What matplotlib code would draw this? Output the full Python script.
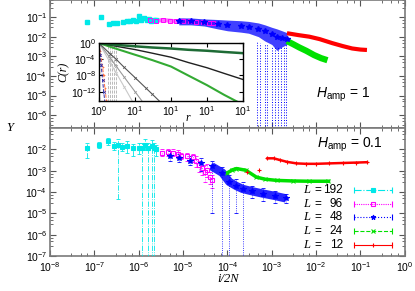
#!/usr/bin/env python3

import numpy as np
import matplotlib
matplotlib.use('Agg')
import matplotlib.pyplot as plt
from matplotlib.ticker import FixedLocator, LogLocator, NullFormatter

plt.rcParams['font.family'] = 'Liberation Sans'
plt.rcParams['mathtext.fontset'] = 'custom'
plt.rcParams['mathtext.rm'] = 'Liberation Sans'
plt.rcParams['mathtext.it'] = 'Liberation Sans:italic'

#------------------------------------------------------------------------------
# Data
#------------------------------------------------------------------------------

sizes = [192, 96, 48, 24, 12]
colors = ['#00e8e8', '#ff00ff', '#0000ff', '#00e000', '#ff0000']
markers = ['s', 's', '*', 'x', '+']
styles = ['-.', (0, (1, 1)), ':', '--', '-']

# H_amp = 1 (top panel)
t192_x = [7e-8, 1.4e-7, 2.1e-7, 2.7e-7, 3.2e-7, 4.5e-7, 5.5e-7, 6.5e-7, 7.5e-7, 8.5e-7,
          1.0e-6, 1.15e-6, 1.3e-6, 1.5e-6, 1.7e-6, 1.9e-6, 2.2e-6, 2.5e-6]
t192_y = [0.055, 0.1, 0.045, 0.05, 0.05, 0.055, 0.06, 0.065, 0.07, 0.06,
          0.11, 0.075, 0.085, 0.07, 0.08, 0.065, 0.075, 0.07]

t96_x = [1.8e-6, 2.5e-6, 3.5e-6, 5e-6, 7e-6, 1e-5, 1.4e-5, 2e-5, 2.8e-5, 3.8e-5, 4.7e-5]
t96_y = [0.07, 0.065, 0.07, 0.065, 0.06, 0.065, 0.06, 0.055, 0.055, 0.05, 0.05]

t48_x = [8e-6, 1.5e-5, 3e-5, 6e-5, 1e-4, 2e-4, 3e-4, 5e-4, 7e-4, 1e-3, 1.3e-3, 1.7e-3, 2.2e-3]
t48_y = [0.06, 0.06, 0.055, 0.045, 0.04, 0.035, 0.03, 0.024, 0.02, 0.014, 0.01, 0.009, 0.008]
t48_lo = [0.04, 0.04, 0.035, 0.025, 0.02, 0.017, 0.015, 0.01, 0.006, 0.004, 0.002, 0.003, 0.004]
t48_hi = [0.09, 0.09, 0.08, 0.075, 0.07, 0.065, 0.06, 0.05, 0.04, 0.03, 0.025, 0.02, 0.016]
t48_err_x = [4.7e-4, 5.3e-4, 7e-4, 8e-4, 1.0e-3, 1.2e-3, 1.4e-3, 1.6e-3, 1.9e-3, 2.1e-3]
t48_err_top = [0.006, 0.005, 0.004, 0.004, 0.003, 0.003, 0.003, 0.003, 0.003, 0.004]

t24_x = [2.2e-3, 3e-3, 4.2e-3, 6e-3, 9e-3, 1.3e-2, 1.8e-2]
t24_y = [6e-3, 4.2e-3, 2.8e-3, 1.9e-3, 1.15e-3, 8e-4, 6.3e-4]

t12_x = [2.2e-3, 4e-3, 7e-3, 1.2e-2, 2.3e-2, 4e-2, 6.5e-2, 1e-1, 1.4e-1]
t12_y = [1.5e-2, 1.2e-2, 1e-2, 7.5e-3, 4.7e-3, 3.3e-3, 2.5e-3, 2.2e-3, 2.1e-3]

# H_amp = 0.1 (bottom panel)
b192_x = [7e-8, 1.3e-7, 2e-7, 2.8e-7, 3.4e-7, 4.3e-7, 5.4e-7, 7.4e-7, 1.0e-6, 1.17e-6,
          1.4e-6, 1.6e-6, 1.95e-6, 2.2e-6, 2.5e-6]
b192_y = [0.011, 0.016, 0.024, 0.015, 0.016, 0.013, 0.014, 0.011, 0.012, 0.011,
          0.016, 0.012, 0.015, 0.011, 0.01]
b192_lo = [0.004, 0.011, 0.016, 0.009, 4.5e-5, 0.008, 0.007, 0.005, 0.006, 1e-8,
           0.009, 1e-8, 1e-8, 1e-8, 0.005]
b192_hi = [0.019, 0.022, 0.035, 0.022, 0.03, 0.02, 0.025, 0.018, 0.02, 0.02,
           0.03, 0.02, 0.028, 0.02, 0.016]

b96_x = [3.3e-6, 4.5e-6, 5.9e-6, 7.5e-6, 9.2e-6, 1.2e-5, 1.66e-5, 2e-5, 2.3e-5, 2.7e-5,
         3.1e-5, 3.5e-5, 4e-5, 4.4e-5]
b96_y = [7e-3, 7.5e-3, 7e-3, 6e-3, 5e-3, 4.8e-3, 4.2e-3, 3e-3, 1.8e-3, 1.3e-3,
         9e-4, 1.1e-3, 5e-4, 3.5e-4]
b96_lo = [5e-3, 5e-3, 5e-3, 4e-3, 3.5e-3, 3e-3, 2.5e-3, 1.5e-3, 9e-4, 6e-4,
          2.8e-4, 5e-4, 2.5e-4, 1.5e-4]
b96_hi = [1e-2, 1e-2, 1e-2, 9e-3, 7e-3, 7e-3, 6e-3, 5e-3, 3e-3, 2.5e-3,
          1.8e-3, 2e-3, 9e-4, 6e-4]

b48_x = [5e-6, 8e-6, 1.4e-5, 2.5e-5, 4.4e-5, 7.7e-5, 1.1e-4, 1.6e-4, 2.2e-4, 3.5e-4,
         6.2e-4, 1.2e-3, 2.1e-3]
b48_y = [5e-3, 4e-3, 3e-3, 2.2e-3, 1.6e-3, 8e-4, 3e-4, 1.9e-4, 1.4e-4, 1.1e-4,
         8.5e-5, 6.5e-5, 5e-5]
b48_lo = [3e-3, 2.5e-3, 1.8e-3, 1e-3, 1e-5, 1e-8, 1e-8, 1e-5, 1e-8, 5e-5,
          4e-5, 3e-5, 3e-5]
b48_hi = [8e-3, 6e-3, 5e-3, 4e-3, 3e-3, 1.5e-3, 6e-4, 4e-4, 3e-4, 2e-4,
          1.5e-4, 1.1e-4, 8e-5]

b24_x = [1e-4, 1.3e-4, 1.6e-4, 2.6e-4, 4.5e-4, 7e-4, 1.3e-3, 3e-3, 7e-3, 1.9e-2]
b24_y = [8e-4, 1.1e-3, 1.26e-3, 1.05e-3, 5e-4, 4e-4, 3.5e-4, 3.3e-4, 3.2e-4, 3.2e-4]

b12_x = [2.8e-4, 5.2e-4, 8e-4, 1.1e-3, 1.5e-3, 2.2e-3, 3.6e-3, 6e-3, 1e-2, 2e-2,
         4e-2, 8e-2, 1.4e-1]
b12_y = [8.3e-4, 1.1e-3, 3.8e-3, 3.8e-3, 3.2e-3, 2.6e-3, 2.2e-3, 2.1e-3, 2.1e-3, 2.2e-3,
         2.3e-3, 2.4e-3, 2.5e-3]

# Inset: correlation function C(r)
inset_r = [1, 3, 10, 30, 100, 300, 1000, 3000, 10000]
c_darkgreen = [1, 0.35, 0.16, 0.08, 0.045, 0.022, 0.0126, 0.0063, 0.0032]
c_black = [1, 0.16, 0.025, 3.2e-3, 3.2e-4, 1.6e-5, 8e-7, 3.2e-8, 1e-9]
c_green = [1, 0.04, 1.3e-3, 6.3e-5, 1.6e-6, 1e-8, 4e-11, 1.6e-13, 6e-16]

inset_r_short = [1, 2, 3, 5, 10, 20, 30, 50]
c_gray1 = [1, 2.5e-3, 1e-4, 1e-6, 3e-9, 8e-12, 2.5e-13, 3e-15]
c_gray2 = [1, 2.5e-4, 2e-6, 4e-9, 1e-12, 2.5e-16, 1e-17, 1e-18]
c_gray3 = [1, 2e-5, 4e-8, 1.6e-11, 3e-16, 1e-18, 1e-19, 1e-20]
gray3_err_r = [1.8, 2.0, 2.3, 2.6, 2.9]

inset_r_steep = [1, 1.08, 1.15, 1.25, 1.35, 1.45, 1.6]
c_orange = [1, 1e-2, 1e-4, 1e-6, 1e-8, 1e-11, 1e-14]
c_blue = [1, 1e-3, 3e-6, 1e-9, 1e-12, 3e-15, 1e-17]


#------------------------------------------------------------------------------
# Helpers
#------------------------------------------------------------------------------

FRAME = '#7a7a7a'


def style_axes(ax, ticksize=7.5):
    for s in ax.spines.values():
        s.set_color(FRAME)
        s.set_linewidth(1.2)
    ax.tick_params(which='both', direction='in', top=True, right=True,
                   color='#555555', labelsize=ticksize, pad=2)
    ax.tick_params(which='major', length=4, width=0.8)
    ax.tick_params(which='minor', length=2, width=0.6)


def power_labels(exps):
    return [r'$10^{%d}$' % e for e in exps]


def with_errors(ax, x, y, lo, hi, color, marker, mfc, ms, bar_ls, z=3):
    x = np.array(x)
    y = np.array(y)
    yerr = [y - np.array(lo), np.array(hi) - y]
    _, caps, bars = ax.errorbar(x, y, yerr=yerr, fmt='none', ecolor=color,
                                elinewidth=0.6, capsize=1.5, capthick=0.6, zorder=z)
    for b in bars:
        b.set_linestyle(bar_ls)
    ax.plot(x, y, ls='none', marker=marker, color=color, mfc=mfc, mec=color,
            ms=ms, mew=0.8, zorder=z + 0.5)


#------------------------------------------------------------------------------
# Figure
#------------------------------------------------------------------------------

fig = plt.figure(figsize=(4.15, 2.91), dpi=100)
ax1 = fig.add_axes([0.1205, 0.560, 0.855, 0.440])
ax2 = fig.add_axes([0.1205, 0.1203, 0.855, 0.4397])
ins = fig.add_axes([0.2386, 0.653, 0.347, 0.199])

for ax in (ax1, ax2):
    ax.set_xscale('log')
    ax.set_yscale('log')
    ax.set_xlim(1e-8, 1)
    ax.xaxis.set_major_locator(FixedLocator([10.0 ** e for e in range(-8, 1)]))
    ax.xaxis.set_minor_locator(LogLocator(base=10, subs=(3, 5, 7), numticks=20))
    ax.xaxis.set_minor_formatter(NullFormatter())
    ax.yaxis.set_minor_locator(LogLocator(base=10, subs=(3, 5, 7), numticks=20))
    ax.yaxis.set_minor_formatter(NullFormatter())
    style_axes(ax)

# --- top panel: H_amp = 1
ax1.set_ylim(2.2e-7, 0.74)
ax1.set_yticks([10.0 ** e for e in range(-6, 0)])
ax1.set_yticklabels(power_labels(range(-6, 0)))
ax1.set_xticklabels([])

ax1.plot(t192_x, t192_y, ls='none', marker='s', color=colors[0], ms=3.2, zorder=4)
ax1.plot(t96_x, t96_y, ls='none', marker='s', color=colors[1], mfc='none', ms=3.2,
         mew=0.7, zorder=4)
ax1.plot(t96_x, t96_y, color=colors[1], lw=3, alpha=0.6, zorder=3)
ax1.fill_between(t48_x, t48_lo, t48_hi, color=colors[2], alpha=0.75, lw=0, zorder=3)
ax1.plot(t48_x, t48_y, ls='none', marker='*', color=colors[2], ms=4, zorder=4)
ax1.vlines(t48_err_x, 1e-8, t48_err_top, colors=colors[2], linestyles=':',
           linewidth=0.7, zorder=2)
ax1.plot(t24_x, t24_y, color=colors[3], lw=4.5, solid_capstyle='butt', zorder=3)
ax1.plot(t12_x, t12_y, color=colors[4], lw=3, solid_capstyle='butt', zorder=3)

ax1.text(0.825, 0.26, r'$H_{\rm amp}$ = 1', transform=ax1.transAxes,
         ha='center', va='center', fontsize=10)

# --- bottom panel: H_amp = 0.1
ax2.set_ylim(1e-7, 1e-1)
ax2.set_yticks([10.0 ** e for e in range(-7, -1)])
ax2.set_yticklabels(power_labels(range(-7, -1)))
ax2.set_xticklabels(power_labels(range(-8, 1)))
ax2.tick_params(axis='x', pad=3)

with_errors(ax2, b192_x, b192_y, b192_lo, b192_hi, colors[0], 's', colors[0], 3.2, '-.')
with_errors(ax2, b96_x, b96_y, b96_lo, b96_hi, colors[1], 's', 'none', 3.2, ':')
with_errors(ax2, b48_x, b48_y, b48_lo, b48_hi, colors[2], '*', colors[2], 4, ':')
ax2.plot(b48_x[4:], b48_y[4:], color=colors[2], lw=6, alpha=0.85, zorder=3,
         solid_capstyle='butt')
ax2.plot(b24_x, b24_y, color=colors[3], lw=2.5, zorder=3, marker='x', ms=2.5, mew=0.7)
ax2.plot(b12_x[2:], b12_y[2:], color=colors[4], lw=1.8, zorder=3)
ax2.plot(b12_x, b12_y, ls='none', marker='+', color=colors[4], ms=3.5, mew=0.8, zorder=4)

ax2.text(0.845, 0.87, r'$H_{\rm amp}$ = 0.1', transform=ax2.transAxes,
         ha='center', va='center', fontsize=10)

# legend, gnuplot style (errorbar keys)
for i, (n, c, m, ls) in enumerate(zip(sizes, colors, markers, styles)):
    yk = 0.516 - i * 0.1075
    ax2.text(0.713, yk, 'L', transform=ax2.transAxes, ha='left', va='center',
             fontsize=9, family='Liberation Serif', style='italic')
    ax2.text(0.745, yk, '=', transform=ax2.transAxes, ha='left', va='center', fontsize=8.5)
    ax2.text(0.825, yk, str(n), transform=ax2.transAxes, ha='right', va='center',
             fontsize=8.5)
    ax2.plot([0.856, 0.963], [yk, yk], transform=ax2.transAxes, color=c, ls=ls,
             lw=0.8, clip_on=False)
    ax2.plot([0.856, 0.963], [yk, yk], transform=ax2.transAxes, ls='none', marker='|',
             color=c, ms=4, mew=0.8, clip_on=False)
    ax2.plot([0.910], [yk], transform=ax2.transAxes, ls='none', marker=m, color=c,
             mfc='none' if n == 96 else c, ms=3.5, mew=0.8, clip_on=False)

fig.text(10 / 415, 1 - 128 / 291, 'Y', ha='center', va='center', fontsize=9,
         family='Liberation Serif', style='italic')
fig.text(228 / 415, 1 - 279 / 291, 'i/2N', ha='center', va='center', fontsize=9,
         family='Liberation Serif', style='italic')

# --- inset
ins.set_xscale('log')
ins.set_yscale('log')
ins.set_xlim(1, 1e4)
ins.set_ylim(5e-15, 1)
ins.set_xticks([1, 10, 100, 1000, 10000])
ins.set_xticklabels([r'$10^{0}$', r'$10^{1}$', r'$10^{1}$', r'$10^{1}$', r'$10^{1}$'])
ins.set_yticks([1, 1e-4, 1e-8, 1e-12])
ins.set_yticklabels([r'$10^{0}$', r'$10^{-4}$', r'$10^{-8}$', r'$10^{-12}$'])
ins.xaxis.set_minor_locator(FixedLocator([]))
ins.yaxis.set_minor_locator(FixedLocator([]))
for s in ins.spines.values():
    s.set_color('black')
    s.set_linewidth(1.0)
ins.tick_params(which='both', direction='in', top=True, right=True, length=3,
                labelsize=7.5, pad=2)
ins.set_facecolor('white')

ins.vlines(gray3_err_r, 1e-20, 1, colors='#b0b0b0', linestyles='--', linewidth=0.6)
ins.plot(inset_r_short, c_gray3, color='#c8c8c8', lw=0.8, marker='x', ms=2, mew=0.5)
ins.plot(inset_r_short, c_gray2, color='#999999', lw=0.8, marker='x', ms=2, mew=0.5)
ins.plot(inset_r_short, c_gray1, color='#555555', lw=0.8, marker='x', ms=2, mew=0.5)
ins.plot(inset_r_steep, c_orange, color='#ff7040', lw=0.7, ls='--', marker='+', ms=2, mew=0.5)
ins.plot(inset_r_steep, c_blue, color='#3030b0', lw=0.7, ls='--', marker='x', ms=2, mew=0.5)
ins.plot(inset_r, c_green, color='#33aa33', lw=1.5)
ins.plot(inset_r, c_black, color='#202020', lw=1.0)
ins.plot(inset_r, c_darkgreen, color='#1e6b35', lw=1.8)

ins.set_ylabel('C(r)', family='Liberation Serif', style='italic', fontsize=8.5,
               labelpad=1)
ins.text(0.62, -0.3, 'r', transform=ins.transAxes, family='Liberation Serif',
         style='italic', fontsize=8.5, ha='center', va='center')

fig.savefig('out.png', dpi=100)
plt.close(fig)
